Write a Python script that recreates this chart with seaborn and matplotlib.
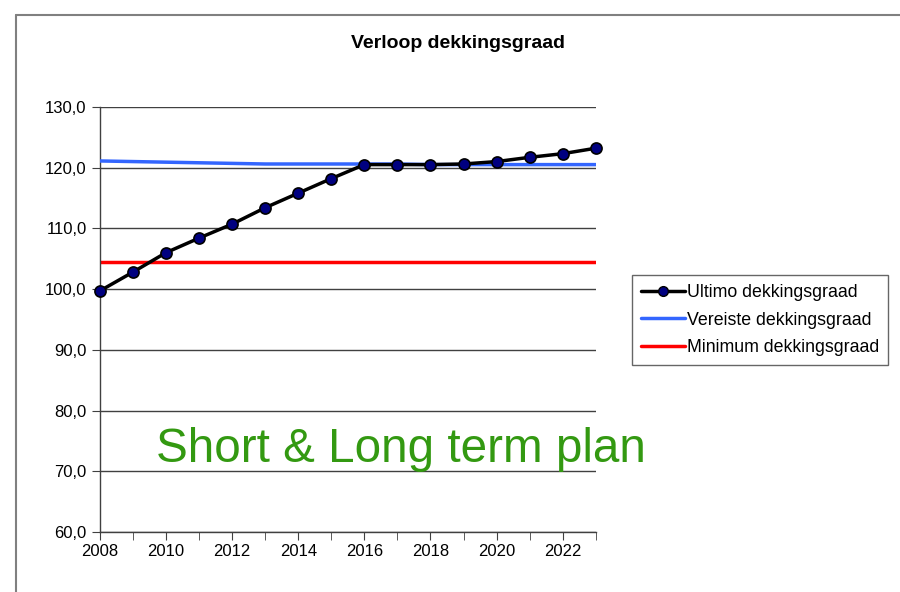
import numpy as np
import pandas as pd
import seaborn as sns
import matplotlib.pyplot as plt
from matplotlib.ticker import FuncFormatter, MultipleLocator
from matplotlib.lines import Line2D

# Data
years = list(range(2008, 2024))
ultimo = [99.7, 102.8, 106.0, 108.4, 110.7, 113.4, 115.8, 118.2,
          120.5, 120.5, 120.5, 120.6, 121.0, 121.7, 122.3, 123.2]
vereiste = [121.1, 121.0, 120.9, 120.8, 120.7, 120.6, 120.6, 120.6,
            120.6, 120.6, 120.5, 120.5, 120.5, 120.5, 120.5, 120.5]
minimum = [104.4] * len(years)

df = pd.DataFrame({'jaar': years, 'ultimo': ultimo,
                   'vereiste': vereiste, 'minimum': minimum})

sns.set_style('white')
plt.rcParams['font.family'] = ['Liberation Sans', 'DejaVu Sans']
plt.rcParams['text.color'] = 'black'
plt.rcParams['xtick.color'] = 'black'
plt.rcParams['ytick.color'] = 'black'

fig = plt.figure(figsize=(9, 5.92), dpi=100)
ax = fig.add_axes([0.111, 0.1014, 0.551, 0.718])

sns.lineplot(data=df, x='jaar', y='minimum', color='#ff0000', lw=2.5, ax=ax, zorder=2)
sns.lineplot(data=df, x='jaar', y='vereiste', color='#3366ff', lw=2.5, ax=ax, zorder=3)
sns.lineplot(data=df, x='jaar', y='ultimo', color='black', lw=2.5, marker='o',
             markersize=8, markerfacecolor='#000080', markeredgecolor='black',
             markeredgewidth=1.2, ax=ax, zorder=4, clip_on=False)

ax.set_xlim(2008, 2023)
ax.set_ylim(60, 130)
ax.yaxis.set_major_locator(MultipleLocator(10))
ax.xaxis.set_major_locator(MultipleLocator(2))
ax.xaxis.set_minor_locator(MultipleLocator(1))
ax.yaxis.set_major_formatter(FuncFormatter(lambda v, p: f'{v:.1f}'.replace('.', ',')))
ax.grid(axis='y', color='#404040', lw=1)
ax.set_axisbelow(True)
for s in ['top', 'right']:
    ax.spines[s].set_visible(False)
for s in ['left', 'bottom']:
    ax.spines[s].set_color('#404040')
    ax.spines[s].set_linewidth(1)
ax.tick_params(axis='both', which='both', direction='out', length=6, color='#404040',
               labelsize=12, labelcolor='black', bottom=True, left=True)
ax.tick_params(axis='x', which='major', pad=3)
ax.set_xlabel('')
ax.set_ylabel('')

fig.text(458/900, 1 - 43/592, 'Verloop dekkingsgraad', fontsize=14,
         fontweight='bold', ha='center', va='center', color='black')

handles = [
    Line2D([], [], color='black', lw=2.5, marker='o', markersize=7,
           markerfacecolor='#000080', markeredgecolor='black'),
    Line2D([], [], color='#3366ff', lw=2.5),
    Line2D([], [], color='#ff0000', lw=2.5),
]
labels = ['Ultimo dekkingsgraad', 'Vereiste dekkingsgraad', 'Minimum dekkingsgraad']
leg = fig.legend(handles, labels, loc='upper left', bbox_to_anchor=(632/900, 1 - 275/592),
                 fontsize=12.8, frameon=True, fancybox=False, edgecolor='#404040',
                 handlelength=2.5, handletextpad=0.1, borderpad=0.5, labelspacing=0.6,
                 borderaxespad=0)
leg.get_frame().set_linewidth(1)

fig.text(0.446, 1 - 450/592, 'Short & Long term plan', color='#339911', fontsize=34.3,
         ha='center', va='center')

# picture frame
fig.add_artist(Line2D([16/900, 16/900], [0, 1 - 15/592], color='#808080', lw=1.5))
fig.add_artist(Line2D([16/900, 1], [1 - 15/592, 1 - 15/592], color='#808080', lw=1.5))

fig.savefig('out.png', dpi=100)
